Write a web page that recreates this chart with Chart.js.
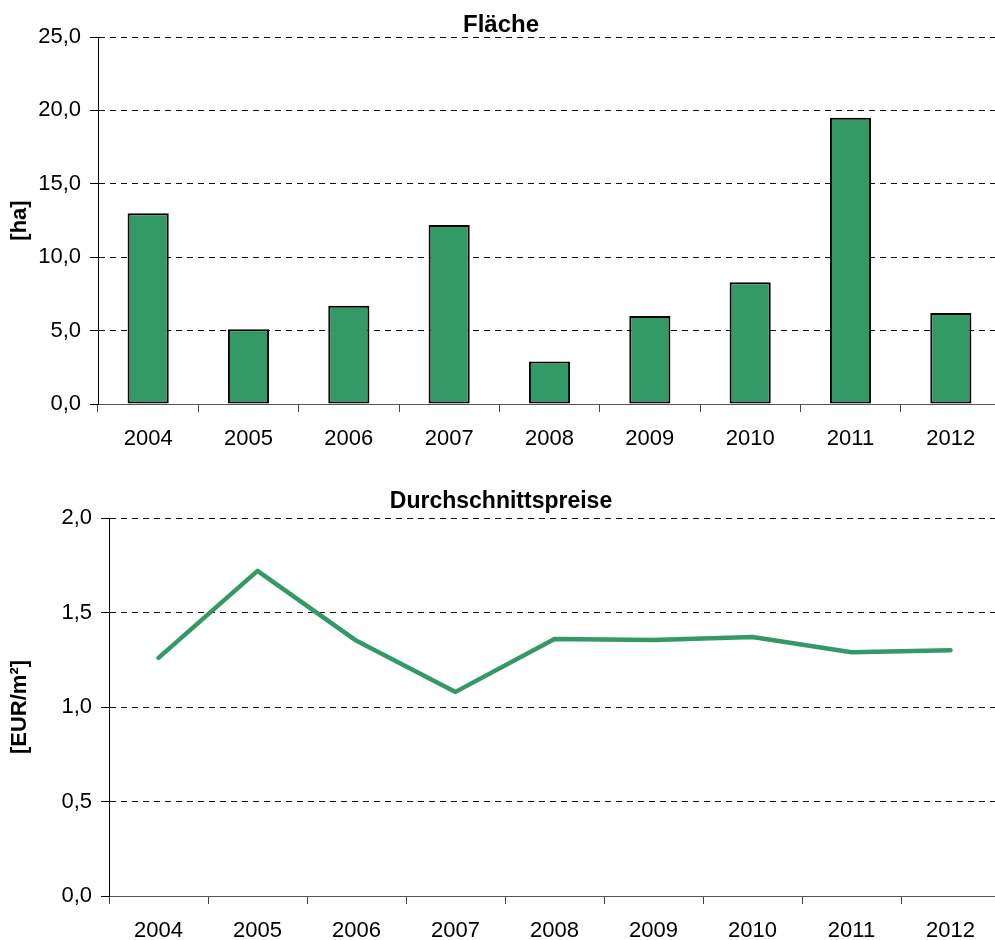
<!DOCTYPE html>
<html>
<head>
<meta charset="utf-8">
<script src="https://cdn.jsdelivr.net/npm/chart.js@4.4.1/dist/chart.umd.min.js"></script>
<style>
html,body{margin:0;padding:0;background:#fff;overflow:hidden;width:995px;height:940px;}
canvas{position:absolute;left:0;}
#c1{top:0;}
#c2{top:470px;}
</style>
</head>
<body>
<canvas id="c1" width="1002" height="470"></canvas>
<canvas id="c2" width="1002" height="470"></canvas>
<script>
const years = ['2004','2005','2006','2007','2008','2009','2010','2011','2012'];
const flaecheHa = [13.0, 5.1, 6.7, 12.2, 2.9, 6.0, 8.3, 19.5, 6.2];
const preisEurM2 = [1.26, 1.72, 1.35, 1.08, 1.36, 1.355, 1.37, 1.29, 1.30];
const title1 = 'Fläche';
const title2 = 'Durchschnittspreise';
const yTitle1 = '[ha]';
const yTitle2 = '[EUR/m²]';

const FONT = "'Liberation Sans', Arial, sans-serif";
const GREEN = '#339966';

function titlePlugin(text, baselineY, size) {
  return {
    id: 'fixedTitle',
    afterDraw(chart) {
      const ctx = chart.ctx;
      ctx.save();
      ctx.font = 'bold ' + size + 'px ' + FONT;
      ctx.fillStyle = '#000';
      ctx.textAlign = 'center';
      ctx.textBaseline = 'alphabetic';
      ctx.fillText(text, 501, baselineY);
      ctx.restore();
    }
  };
}

function commaFmt(v) { return Number(v).toFixed(1).replace('.', ','); }

function makeOptions(opts) {
  return {
    responsive: false,
    animation: false,
    layout: { padding: { top: opts.top, left: 0, right: opts.right, bottom: 0 } },
    plugins: { legend: { display: false }, tooltip: { enabled: false }, title: { display: false } },
    scales: {
      x: {
        offset: true,
        grid: { display: true, drawOnChartArea: false, offset: true, tickLength: 8, tickColor: '#444', tickWidth: 1 },
        border: { display: true, color: '#555', width: 1 },
        ticks: { color: '#000', font: { family: FONT, size: 22 }, padding: 14, maxRotation: 0, autoSkip: false },
        afterFit(scale) { scale.height = opts.xHeight; }
      },
      y: {
        min: 0, max: opts.max,
        grid: { display: true, color: '#111', lineWidth: 1, tickLength: 8, tickColor: '#000', drawTicks: true },
        border: { display: true, color: '#000', width: 1, dash: [6, 5] },
        ticks: { stepSize: opts.step, color: '#000', font: { family: FONT, size: 22 }, padding: 9, callback: commaFmt },
        title: { display: true, text: opts.yTitle, color: '#000', font: { family: FONT, size: 22, weight: 'bold' }, padding: { top: 7, bottom: 0 } },
        afterFit(scale) { scale.width = opts.left; }
      }
    }
  };
}

new Chart(document.getElementById('c1'), {
  type: 'bar',
  data: {
    labels: years,
    datasets: [{
      data: flaecheHa,
      backgroundColor: GREEN,
      borderColor: '#000',
      borderWidth: 2,
      borderSkipped: false,
      barPercentage: 0.41,
      categoryPercentage: 1.0
    }]
  },
  options: makeOptions({ top: 37, right: 1, left: 98, xHeight: 66, max: 25, step: 5, yTitle: yTitle1 }),
  plugins: [titlePlugin(title1, 32, 24)]
});

new Chart(document.getElementById('c2'), {
  type: 'line',
  data: {
    labels: years,
    datasets: [{
      data: preisEurM2,
      borderColor: GREEN,
      backgroundColor: GREEN,
      borderWidth: 4.5,
      pointRadius: 0,
      tension: 0,
      fill: false,
      borderCapStyle: 'round',
      borderJoinStyle: 'round'
    }]
  },
  options: makeOptions({ top: 48, right: 2, left: 109, xHeight: 44, max: 2, step: 0.5, yTitle: yTitle2 }),
  plugins: [titlePlugin(title2, 38, 23)]
});
</script>
</body>
</html>
